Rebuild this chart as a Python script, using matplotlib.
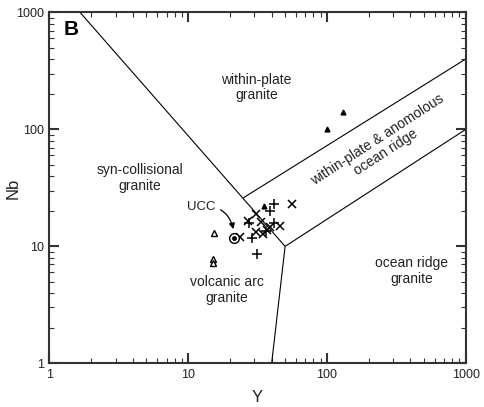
import matplotlib
matplotlib.use("Agg")
import matplotlib.pyplot as plt
from matplotlib.ticker import LogLocator, NullFormatter, FixedLocator, FixedFormatter

plt.rcParams['font.family'] = ['Liberation Sans', 'DejaVu Sans']

# Field boundaries of the Nb-Y granite discrimination diagram (Y, Nb)
boundary_wpg_vag = ([1, 50], [2000, 10])
boundary_org_vag = ([40, 50], [1, 10])
boundary_org_wpg = ([50, 1000], [10, 100])
boundary_band = ([25, 1000], [26, 400])

# Samples (Y ppm, Nb ppm)
plus_y = [41.7, 38.7, 41.4, 28.7, 31.4, 27.3, 36.2]
plus_nb = [22.9, 20.2, 15.7, 11.7, 8.6, 15.9, 13.5]

cross_y = [56.2, 30.7, 27.0, 33.7, 46.2, 38.7, 31.0, 34.6, 36.8, 23.7]
cross_nb = [23.0, 18.9, 16.6, 16.1, 15.0, 14.7, 13.2, 12.8, 13.8, 12.0]

open_tri_y = [15.3, 15.1, 15.1]
open_tri_nb = [13.1, 7.8, 7.2]

filled_tri_y = [35.3, 100, 130]
filled_tri_nb = [22.2, 100, 140]

ucc_y, ucc_nb = 21.4, 11.9

tick_values = [1, 10, 100, 1000]
tick_labels = ['1', '10', '100', '1000']

W, H = 485, 407
fig = plt.figure(figsize=(W / 100, H / 100), dpi=100)
ax = fig.add_axes([0.1016, 0.1074, 0.8586, 0.8619])
ax.set_xscale('log')
ax.set_yscale('log')
ax.set_xlim(1, 1000)
ax.set_ylim(1, 1000)

for xs, ys in (boundary_wpg_vag, boundary_org_vag, boundary_org_wpg, boundary_band):
    ax.plot(xs, ys, color='black', lw=0.8, solid_capstyle='butt')

mk = dict(linestyle='none', color='black')
ax.plot(plus_y, plus_nb, marker='+', markersize=6.5, markeredgewidth=1.1, **mk)
ax.plot(cross_y, cross_nb, marker='x', markersize=5.5, markeredgewidth=1.1, **mk)
ax.plot(open_tri_y, open_tri_nb, marker='^', markersize=4, markeredgewidth=1.0,
        markerfacecolor='white', markeredgecolor='black', linestyle='none')
ax.plot(filled_tri_y, filled_tri_nb, marker='^', markersize=3.5, **mk)
ax.plot([ucc_y], [ucc_nb], marker='o', markersize=7, markerfacecolor='white',
        markeredgecolor='black', markeredgewidth=1.0, linestyle='none')
ax.plot([ucc_y], [ucc_nb], marker='o', markersize=2.5, **mk)

ax.annotate('UCC', xy=(ucc_y * 0.99, ucc_nb * 1.18), xytext=(12.4, 21.7),
            ha='center', va='center', fontsize=9.5, color='#222222',
            arrowprops=dict(arrowstyle='-|>,head_length=0.35,head_width=0.18',
                            connectionstyle='arc3,rad=-0.45', color='black',
                            lw=0.9, shrinkA=2, shrinkB=0))

label_kw = dict(ha='center', va='center', fontsize=10, color='#222222',
                multialignment='center', linespacing=1.1)
ax.text(31.2, 230, 'within-plate\ngranite', **label_kw)
ax.text(4.5, 38.4, 'syn-collisional\ngranite', **label_kw)
ax.text(19.0, 4.23, 'volcanic arc\ngranite', **label_kw)
ax.text(406, 6.15, 'ocean ridge\ngranite', **label_kw)
ax.text(247, 72, 'within-plate & anomolous\nocean ridge', rotation=33,
        rotation_mode='anchor', **label_kw)

ax.text(0.034, 0.978, 'B', transform=ax.transAxes, ha='left', va='top',
        fontsize=15, fontweight='bold', color='black')

ax.xaxis.set_major_locator(FixedLocator(tick_values))
ax.xaxis.set_major_formatter(FixedFormatter(tick_labels))
ax.yaxis.set_major_locator(FixedLocator(tick_values))
ax.yaxis.set_major_formatter(FixedFormatter(tick_labels))
for axis in (ax.xaxis, ax.yaxis):
    axis.set_minor_locator(LogLocator(base=10, subs=range(2, 10), numticks=20))
    axis.set_minor_formatter(NullFormatter())

ax.tick_params(which='both', direction='in', top=True, right=True,
               color='#333333', labelsize=9, labelcolor='#222222')
ax.tick_params(which='major', length=7, width=1.5, pad=4)
ax.tick_params(which='minor', length=3.8, width=0.8)
for s in ax.spines.values():
    s.set_linewidth(1.5)
    s.set_color('#333333')

# Axis titles placed in figure pixels
fig.text(257 / W, 1 - 398 / H, 'Y', ha='center', va='center',
         fontsize=12, color='#222222')
fig.text(13 / W, 1 - 188 / H, 'Nb', ha='center', va='center', rotation=90,
         fontsize=12, color='#222222')

fig.savefig('out.png', dpi=100)
